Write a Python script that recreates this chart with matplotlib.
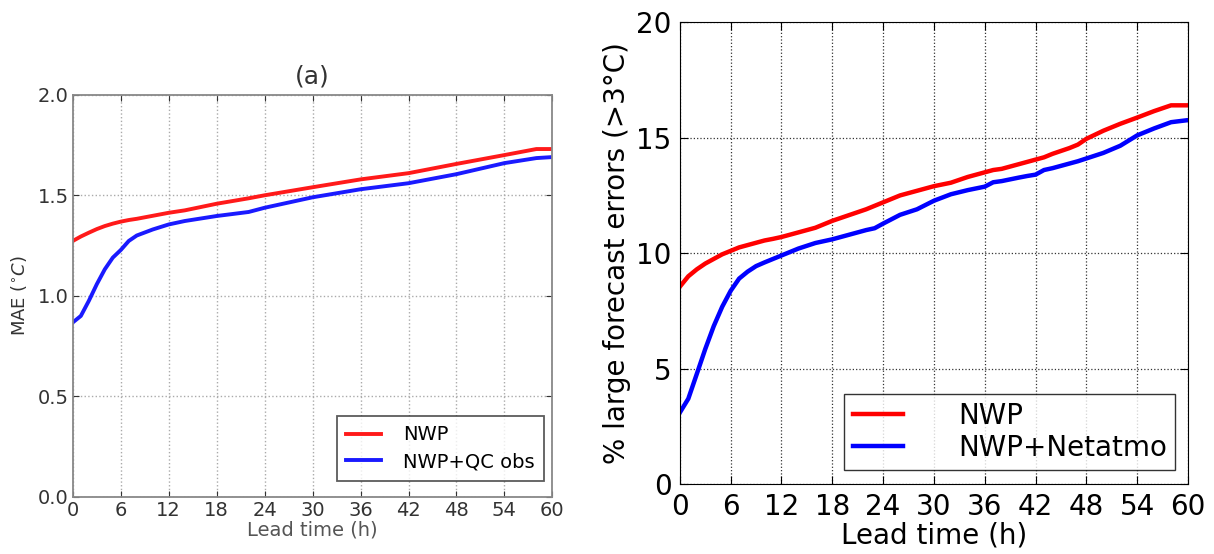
import numpy as np
import matplotlib
matplotlib.use("Agg")
import matplotlib.pyplot as plt

# panel (a): MAE
lead_a = [0, 1, 2, 3, 4, 5, 6, 7, 8, 10, 12, 14, 18, 22, 24, 30, 36, 42, 48, 54, 58, 60]
nwp_a = [1.273, 1.295, 1.314, 1.332, 1.347, 1.359, 1.369, 1.377, 1.383, 1.398, 1.413,
         1.425, 1.458, 1.485, 1.50, 1.54, 1.579, 1.61, 1.656, 1.70, 1.73, 1.73]
qc_a = [0.868, 0.90, 0.975, 1.058, 1.132, 1.19, 1.228, 1.273, 1.30, 1.33, 1.355,
        1.372, 1.397, 1.417, 1.438, 1.49, 1.53, 1.56, 1.605, 1.66, 1.685, 1.69]

# panel (b): % large forecast errors
lead_b = [0, 1, 2, 3, 4, 5, 6, 7, 8, 9, 10, 11, 12, 14, 16, 18, 20, 22, 23, 24, 26, 28,
          30, 32, 34, 36, 37, 38, 40, 41, 42, 43, 44, 46, 47, 48, 50, 52, 54, 56, 58, 60]
nwp_b = [8.55, 9.0, 9.3, 9.55, 9.75, 9.95, 10.1, 10.25, 10.35, 10.45, 10.55, 10.62, 10.7,
         10.9, 11.1, 11.4, 11.65, 11.9, 12.05, 12.2, 12.5, 12.7, 12.9, 13.05, 13.3, 13.5,
         13.6, 13.65, 13.85, 13.95, 14.05, 14.15, 14.3, 14.55, 14.7, 14.95, 15.3, 15.6,
         15.87, 16.15, 16.4, 16.4]
net_b = [3.1, 3.7, 4.77, 5.85, 6.84, 7.68, 8.37, 8.9, 9.2, 9.44, 9.6, 9.75, 9.9, 10.2,
         10.44, 10.6, 10.8, 11.0, 11.08, 11.28, 11.66, 11.9, 12.27, 12.55, 12.73, 12.88,
         13.07, 13.12, 13.27, 13.34, 13.4, 13.6, 13.68, 13.88, 13.98, 14.1, 14.34, 14.65,
         15.1, 15.4, 15.67, 15.76]

xticks = list(range(0, 61, 6))

fig = plt.figure(figsize=(12.14, 5.54), dpi=100)

# ---- left panel ----
ax1 = fig.add_axes([0.060, 0.103, 0.395, 0.726])
ax1.plot(lead_a, nwp_a, color='#ff1a1a', lw=2.8, label='NWP')
ax1.plot(lead_a, qc_a, color='#1a1aff', lw=2.8, label='NWP+QC obs')
ax1.set_xlim(0, 60)
ax1.set_ylim(0, 2.0)
ax1.set_xticks(xticks)
ax1.set_yticks([0.0, 0.5, 1.0, 1.5, 2.0])
ax1.set_yticklabels(['0.0', '0.5', '1.0', '1.5', '2.0'])
ax1.tick_params(direction='in', labelsize=14, colors='#333333', length=4,
                top=True, right=True, pad=3)
ax1.grid(True, linestyle=':', color='#aaaaaa', lw=1)
for s in ax1.spines.values():
    s.set_color('#888888')
    s.set_linewidth(1.3)
ax1.set_xlabel('Lead time (h)', fontsize=14, color='#555555', labelpad=0)
ax1.set_ylabel(r'MAE ($^{\circ}C$)', fontsize=13, color='#333333', labelpad=6)
ax1.set_title('(a)', fontsize=18, color='#333333', pad=8)
leg1 = ax1.legend(loc='lower right', fontsize=14, handlelength=1.8,
                  fancybox=False, edgecolor='#333333', borderpad=0.5,
                  handletextpad=1.1, labelspacing=0.4, borderaxespad=0,
                  bbox_to_anchor=(0.983, 0.04))
leg1.get_frame().set_linewidth(1.3)

# ---- right panel ----
ax2 = fig.add_axes([0.560, 0.126, 0.4186, 0.834])
ax2.plot(lead_b, nwp_b, color='red', lw=3.2, label='NWP')
ax2.plot(lead_b, net_b, color='blue', lw=3.2, label='NWP+Netatmo')
ax2.set_xlim(0, 60)
ax2.set_ylim(0, 20)
ax2.set_xticks(xticks)
ax2.set_yticks([0, 5, 10, 15, 20])
ax2.tick_params(direction='in', labelsize=20, length=6, top=True, right=True, pad=6)
ax2.grid(True, linestyle=':', color='#333333', lw=0.9)
ax2.set_xlabel('Lead time (h)', fontsize=20, labelpad=1)
ax2.set_ylabel('% large forecast errors (>3°C)', fontsize=20)
leg2 = ax2.legend(loc='lower right', fontsize=20, handlelength=1.8,
                  fancybox=False, edgecolor='black', borderpad=0.3,
                  handletextpad=2.0, labelspacing=0.15, borderaxespad=0,
                  bbox_to_anchor=(0.975, 0.03))
leg2.get_frame().set_linewidth(1.0)

fig.savefig('out.png', dpi=100)
